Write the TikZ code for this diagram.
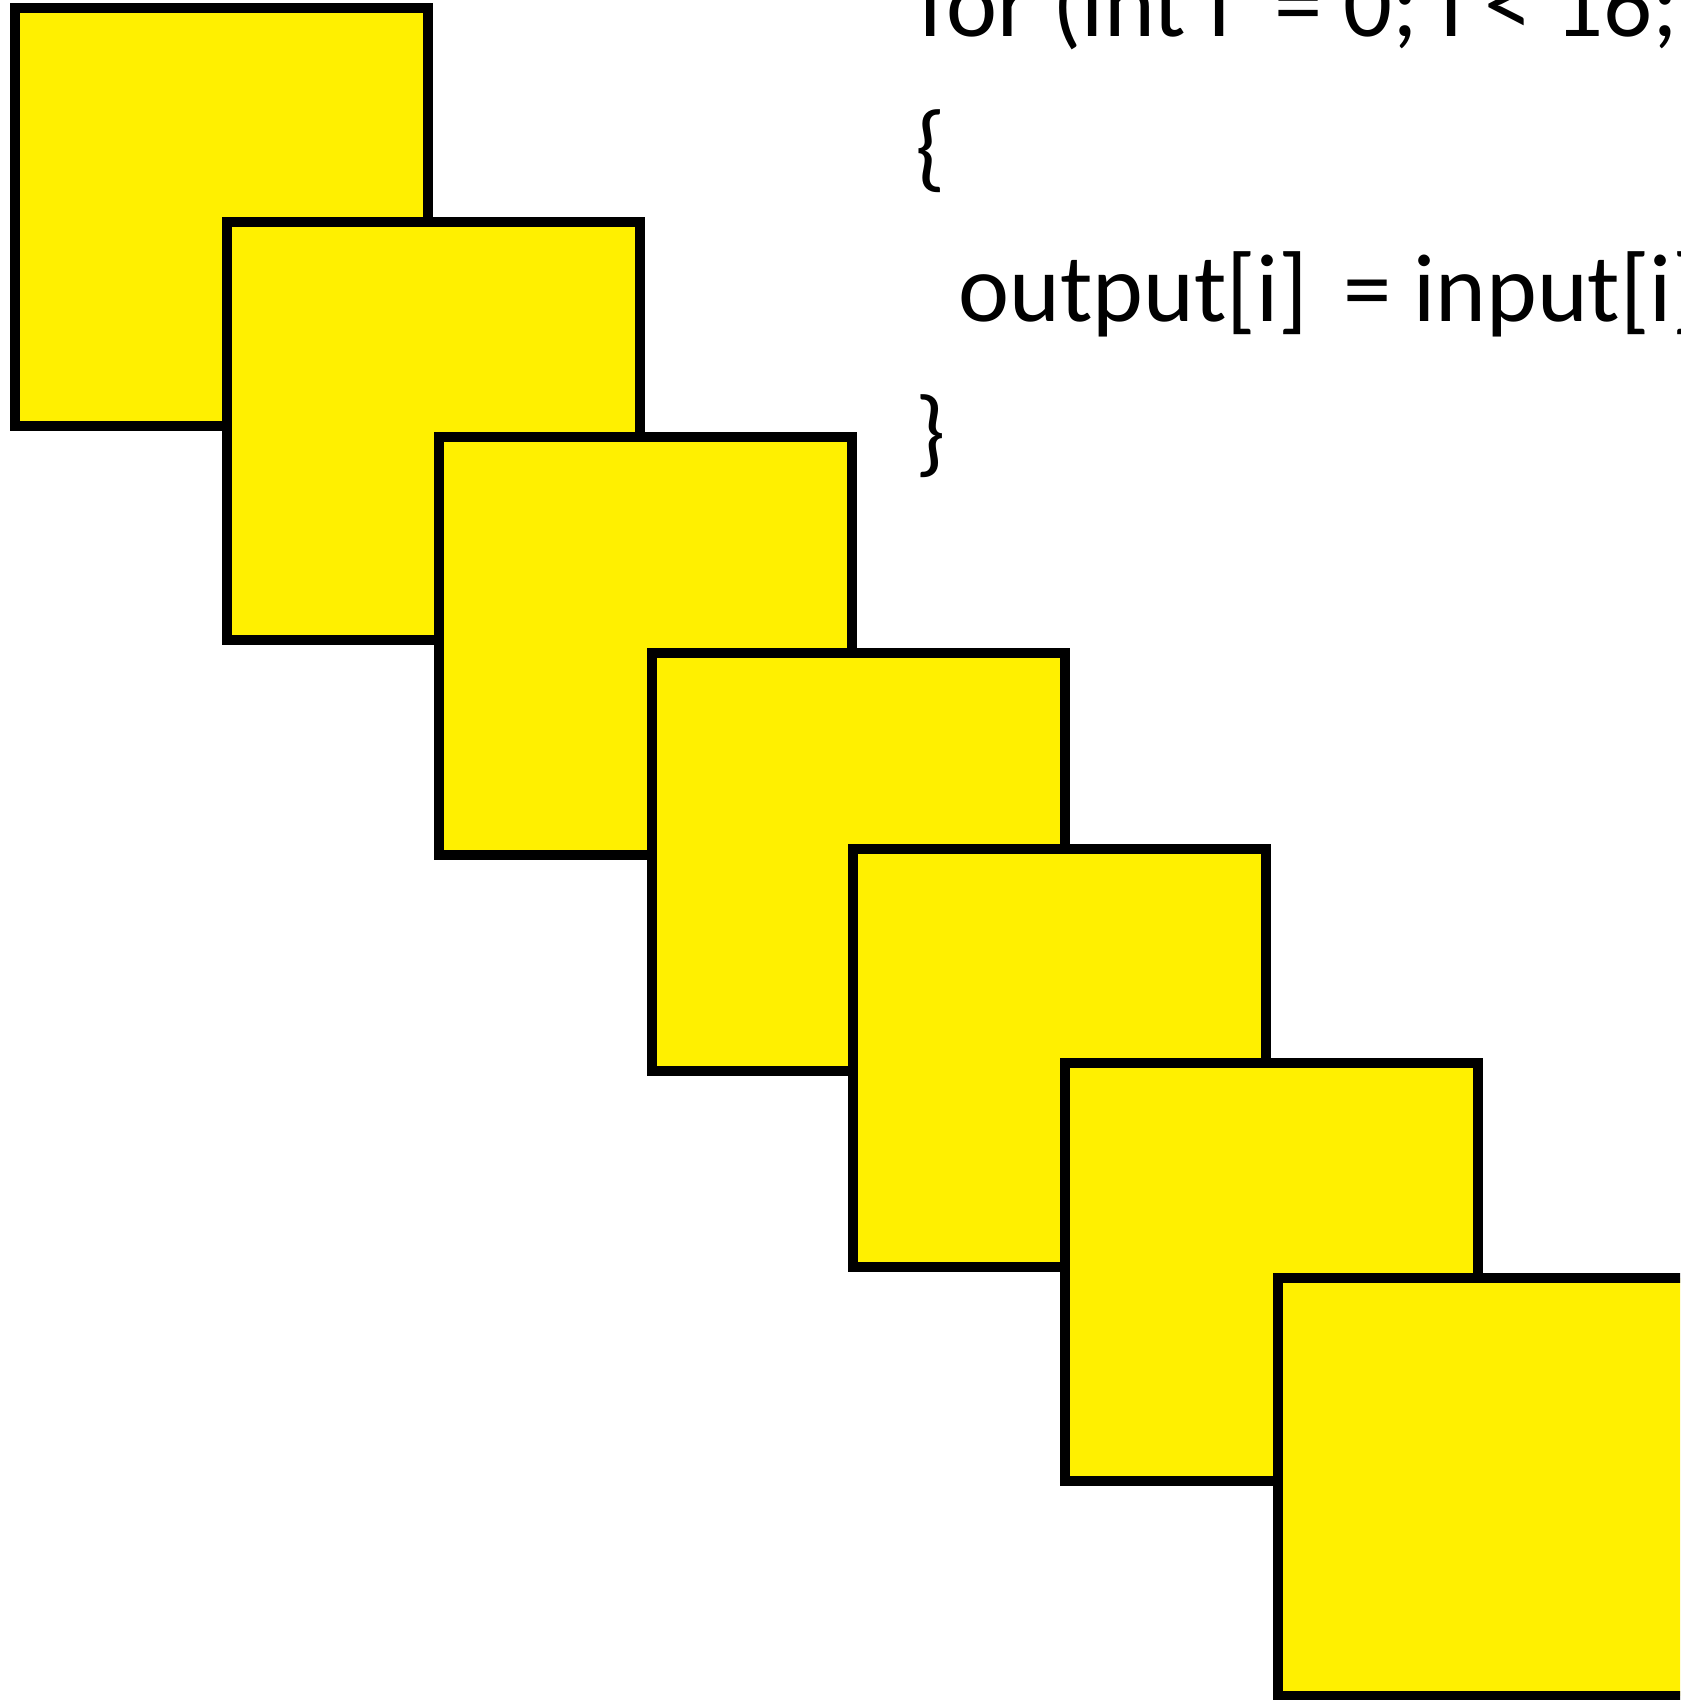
\documentclass[tikz,border=0pt]{standalone}
\usepackage{fontspec}
\setmainfont{Carlito}
\definecolor{boxyellow}{RGB}{255,240,0}
\tikzset{
    tile/.style={draw=black, fill=boxyellow, line width=1mm},
    code/.style={anchor=base west, inner sep=0pt, font=\fontsize{27.5}{33}\selectfont},
}
\begin{document}
\begin{tikzpicture}[x=0.1mm, y=-0.1mm]
    % visible window
    \useasboundingbox (0,0) rectangle (1680,1700);
    \clip (0,0) rectangle (1680,1700);

    % staircase of tiles, each one laid over the previous
    \foreach \tx/\ty in {15/8, 227/222, 439/437, 652/653, 853/849, 1065/1063, 1278/1278}
        \draw[tile] (\tx,\ty) rectangle ++(413,418);

    % loop code
    \node[code] (loophead) at (918,37) {for (int i\ \ = 0; i < 16;};
    \node[code] (openbrace) at (915,180) {\{};
    \node[code] (loopbody) at (958,322) {output[i]\hspace{0.14em} = input[i]};
    \node[code] (closebrace) at (915,465) {\}};
\end{tikzpicture}
\end{document}
